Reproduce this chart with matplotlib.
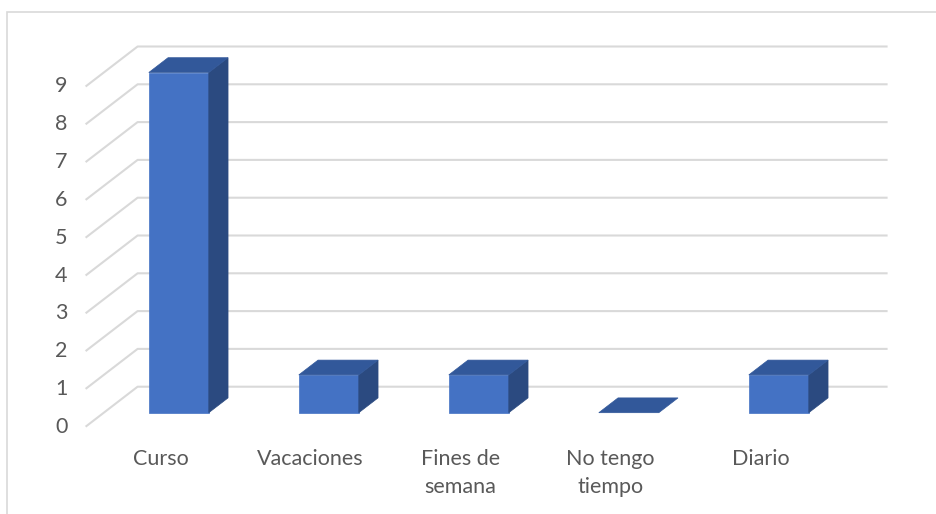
import matplotlib
matplotlib.use("Agg")
import matplotlib.pyplot as plt
from matplotlib.patches import Polygon, Rectangle

categories = ["Curso", "Vacaciones", "Fines de\nsemana", "No tengo\ntiempo", "Diario"]
values = [9, 1, 1, 0, 1]
y_ticks = list(range(0, 10))

FRONT = "#4472C4"
TOP = "#32589A"
SIDE = "#2B4A80"
GRID = "#D9D9D9"
TEXT = "#595959"

plt.rcParams["font.family"] = ["Lato", "DejaVu Sans"]

W, H = 936, 514
fig = plt.figure(figsize=(W / 100, H / 100), dpi=100)

# front plane of the plot area in pixels
x_left, x_right = 85.6, 835.6
y_zero, y_nine = 426.7, 86.5
ax = fig.add_axes([x_left / W, (H - y_zero) / H, (x_right - x_left) / W, (y_zero - y_nine) / H])
ax.set_xlim(-0.5, len(categories) - 0.5)
ax.set_ylim(0, 9)
ax.axis("off")

# oblique depth offset in data units
px_x = (x_right - x_left) / len(categories)
px_y = (y_zero - y_nine) / 9
DX = 52 / px_x
DY = 40 / px_y

# outer chart border
fig.patches.append(Rectangle((7.5 / W, -0.1), 1.1, (H - 12) / H + 0.1, transform=fig.transFigure,
                             fill=False, edgecolor="#D9D9D9", lw=1.2))

# gridlines: side diagonals + back wall
x0 = -0.5
x1 = len(categories) - 0.5
for v in y_ticks:
    ax.plot([x0, x0 + DX, x1 + DX], [v, v + DY, v + DY], color=GRID, lw=1.5, clip_on=False, zorder=1,
            solid_capstyle="butt")
    ax.text(x0 - 0.12, v, str(v), ha="right", va="center", fontsize=15.5, color=TEXT)

# bars
bw = 0.2
d0, d1 = 0.35, 0.72
for i, v in enumerate(values):
    fx0 = i - bw + d0 * DX
    fx1 = i + bw + d0 * DX
    fy = d0 * DY
    ddx = (d1 - d0) * DX
    ddy = (d1 - d0) * DY
    if v > 0:
        ax.add_patch(Polygon([(fx0, fy), (fx1, fy), (fx1, fy + v), (fx0, fy + v)],
                             closed=True, facecolor=FRONT, edgecolor=FRONT, lw=0.5, clip_on=False, zorder=3))
        ax.add_patch(Polygon([(fx1, fy), (fx1 + ddx, fy + ddy), (fx1 + ddx, fy + v + ddy), (fx1, fy + v)],
                             closed=True, facecolor=SIDE, edgecolor=SIDE, lw=0.5, clip_on=False, zorder=3))
    ax.add_patch(Polygon([(fx0, fy + v), (fx1, fy + v), (fx1 + ddx, fy + v + ddy), (fx0 + ddx, fy + v + ddy)],
                         closed=True, facecolor=TOP, edgecolor=TOP, lw=0.5, clip_on=False, zorder=3))

# category labels
for i, c in enumerate(categories):
    ax.text(i, -0.58, c, ha="center", va="top", fontsize=15.5, color=TEXT, linespacing=1.5)

fig.savefig("out.png", dpi=100)
